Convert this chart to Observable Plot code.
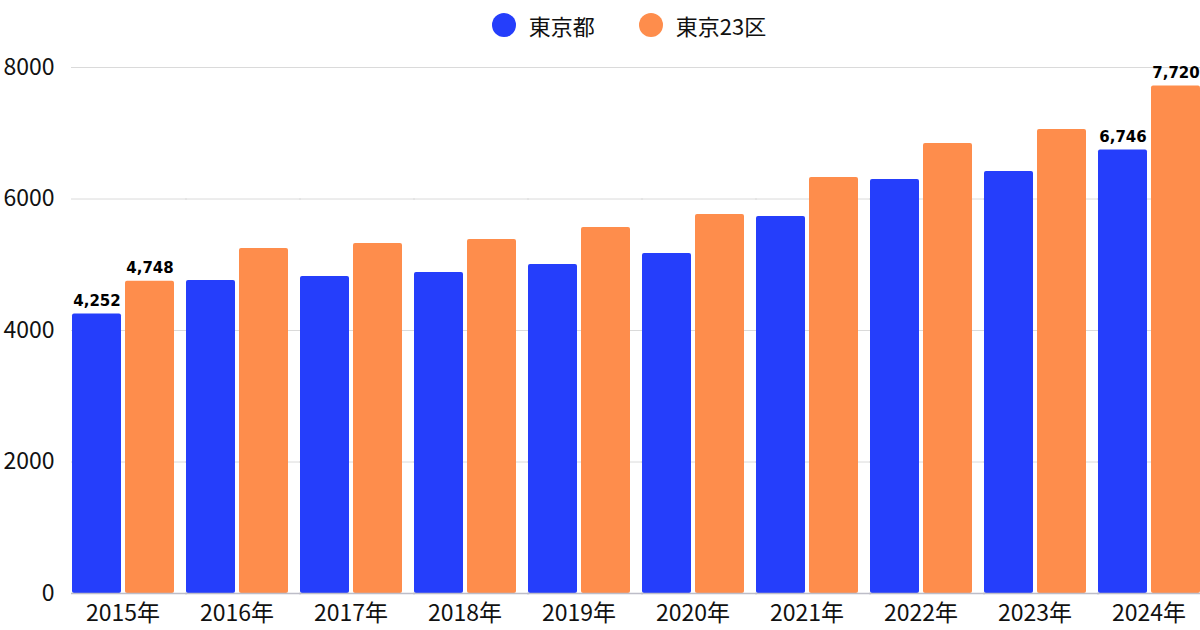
<!DOCTYPE html>
<html><head><meta charset="utf-8">
<script src="https://cdn.jsdelivr.net/npm/d3@7"></script>
<script src="https://cdn.jsdelivr.net/npm/@observablehq/plot@0.6"></script>
<style>
body{margin:0;background:#fff;font-family:"Noto Sans CJK JP","Noto Sans",sans-serif;}
#legend{height:40px;padding-top:10px;display:flex;justify-content:center;align-items:center;gap:44px;font-size:22px;color:#111;padding-left:58px;box-sizing:border-box;}
.item{display:flex;align-items:center;gap:13px;}
.sw{width:24px;height:24px;border-radius:50%;display:inline-block;}
#chart svg{display:block;}
</style>
</head><body>
<div id="legend"></div>
<div id="chart"></div>
<script>
const years = [2015, 2016, 2017, 2018, 2019, 2020, 2021, 2022, 2023, 2024];
const seriesNames = ["東京都", "東京23区"];
const tokyo = [4252, 4761, 4821, 4882, 5004, 5171, 5734, 6297, 6418, 6746];
const ku23 = [4748, 5247, 5323, 5384, 5567, 5764, 6327, 6844, 7057, 7720];
const labelYears = [2015, 2024];
const yTicks = [0, 2000, 4000, 6000, 8000];
const colors = ["#253EFB", "#FE8D4C"];

const rows = [];
years.forEach((y, i) => {
  rows.push({year: y, series: seriesNames[0], value: tokyo[i]});
  rows.push({year: y, series: seriesNames[1], value: ku23[i]});
});

const legend = document.getElementById("legend");
seriesNames.forEach((s, i) => {
  const it = document.createElement("span");
  it.className = "item";
  const sw = document.createElement("span");
  sw.className = "sw";
  sw.style.background = colors[i];
  const t = document.createElement("span");
  t.textContent = s;
  it.append(sw, t);
  legend.append(it);
});

const fmt = d3.format(",");
const chart = Plot.plot({
  width: 1200,
  height: 590,
  marginLeft: 70,
  marginRight: 0,
  marginTop: 27,
  marginBottom: 37,
  style: {fontFamily: '"Noto Sans CJK JP","Noto Sans",sans-serif', fontSize: "23px", color: "#111", background: "#fff"},
  fx: {domain: years, paddingInner: 0.1, paddingOuter: 0},
  x: {domain: seriesNames, paddingInner: 0.08, paddingOuter: 0, axis: null},
  y: {domain: [0, 8000]},
  color: {domain: seriesNames, range: colors},
  marks: [
    Plot.ruleY(yTicks.filter(d => d > 0), {stroke: "#dadada", strokeWidth: 1, insetRight: -13}),
    Plot.barY(rows, {fx: "year", x: "series", y: "value", fill: "series", rx: 2}),
    Plot.ruleY([0], {stroke: "#bdbdc8", strokeWidth: 1.5, insetRight: -13}),
    Plot.text(rows.filter(d => labelYears.includes(d.year)), {
      fx: "year", x: "series", y: "value", text: d => fmt(d.value),
      dy: -8, lineAnchor: "bottom", fontWeight: "bold", fontSize: 15,
      fontFamily: '"DejaVu Sans",sans-serif', fill: "#000"
    }),
    Plot.axisFx({anchor: "bottom", tickSize: 0, tickPadding: 11, fontSize: 23, tickFormat: d => d + "年", label: null}),
    Plot.axisY({ticks: yTicks, tickSize: 0, tickPadding: 17, fontSize: 23, tickFormat: d => String(d), label: null})
  ]
});
document.getElementById("chart").append(chart);
</script>
</body></html>
